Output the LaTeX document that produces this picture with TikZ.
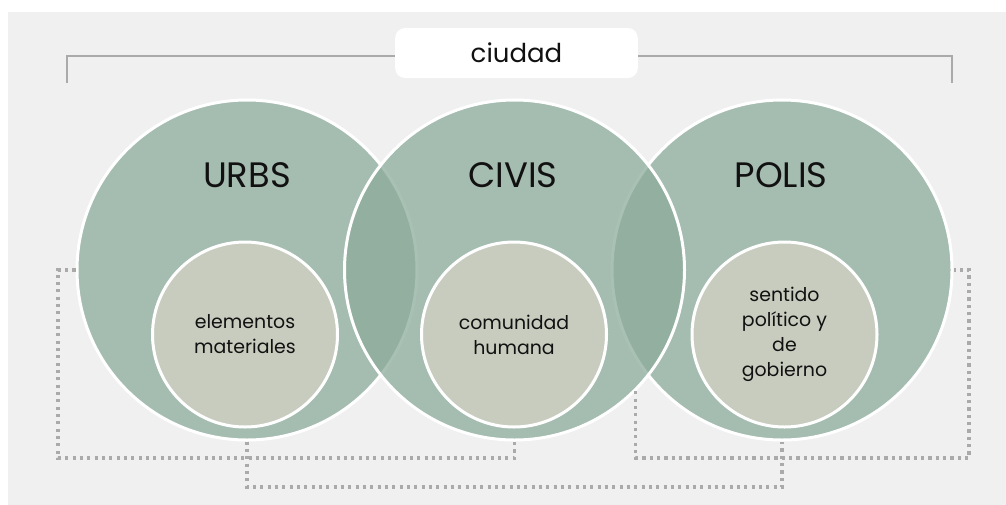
\documentclass[tikz,border=0pt]{standalone}
\usepackage{fontspec}
\setmainfont{Poppins}
\definecolor{bgc}{HTML}{F0F0F0}
\definecolor{outc}{RGB}{141,171,155}
\definecolor{innc}{HTML}{C8CCBF}
\definecolor{linec}{HTML}{AAAAAA}
\definecolor{txtc}{HTML}{111111}
\begin{document}
\begin{tikzpicture}[x=0.75pt,y=-0.75pt,
  outer/.style={circle, minimum size=255pt, inner sep=0pt, fill=outc, fill opacity=0.75, draw=white, draw opacity=1, line width=2.25pt},
  inner/.style={circle, minimum size=138.75pt, inner sep=0pt, fill=innc, draw=white, line width=2.25pt, align=center, text=txtc, font=\fontsize{14.2}{18.75}\selectfont},
  title/.style={text=txtc, font=\fontsize{26.5}{32}\selectfont},
  dotline/.style={draw=linec, line width=2.5pt, dash pattern=on 2.4pt off 3.1pt},
  bracket/.style={draw=linec, line width=1.5pt},
  topbox/.style={fill=white, rounded corners=7.5pt, minimum width=182pt, minimum height=37.5pt, inner sep=0pt, text=txtc, font=\fontsize{19.5}{24}\selectfont}
]
\useasboundingbox (0,0) rectangle (1006,504);
\fill[white] (-5,-5) rectangle (1012,510);
\fill[bgc] (8,12) rectangle (1012,510);

% named free ends
\coordinate (bl) at (67,83);
\coordinate (br) at (952,83);
\coordinate (lb) at (58,458);
\coordinate (rb) at (969,458);
\coordinate (mb) at (0,487);

% top label and bracket
\node[topbox] (ciudad) at (516.5,53) {ciudad};
\draw[bracket] (bl) |- (ciudad.west |- 0,56);
\draw[bracket] (br) |- (ciudad.east |- 0,56);

% outer circles
\node[outer] (urbs) at (247,270) {};
\node[outer] (polis) at (782,270) {};
\node[outer] (civis) at (514.5,270) {};

% dotted connectors
\draw[dotline] (urbs.west) -| (lb) -| (civis.south);
\draw[dotline] (urbs.south) -- (urbs.south |- mb) -| (polis.south);
\draw[dotline] (civis.-45) |- (rb) |- (polis.east);

% titles
\node[title] (urbsT) at (247,175.5) {URBS};
\node[title] (civisT) at (513,175.5) {CIVIS};
\node[title] (polisT) at (781,175.5) {POLIS};

% inner circles
\node[inner] (urbsI) at (245,334.5) {elementos\\materiales};
\node[inner] (civisI) at (514,334.5) {comunidad\\humana};
\node[inner] (polisI) at (784.5,334.5) {sentido\\político y\\de\\gobierno};
\end{tikzpicture}
\end{document}
